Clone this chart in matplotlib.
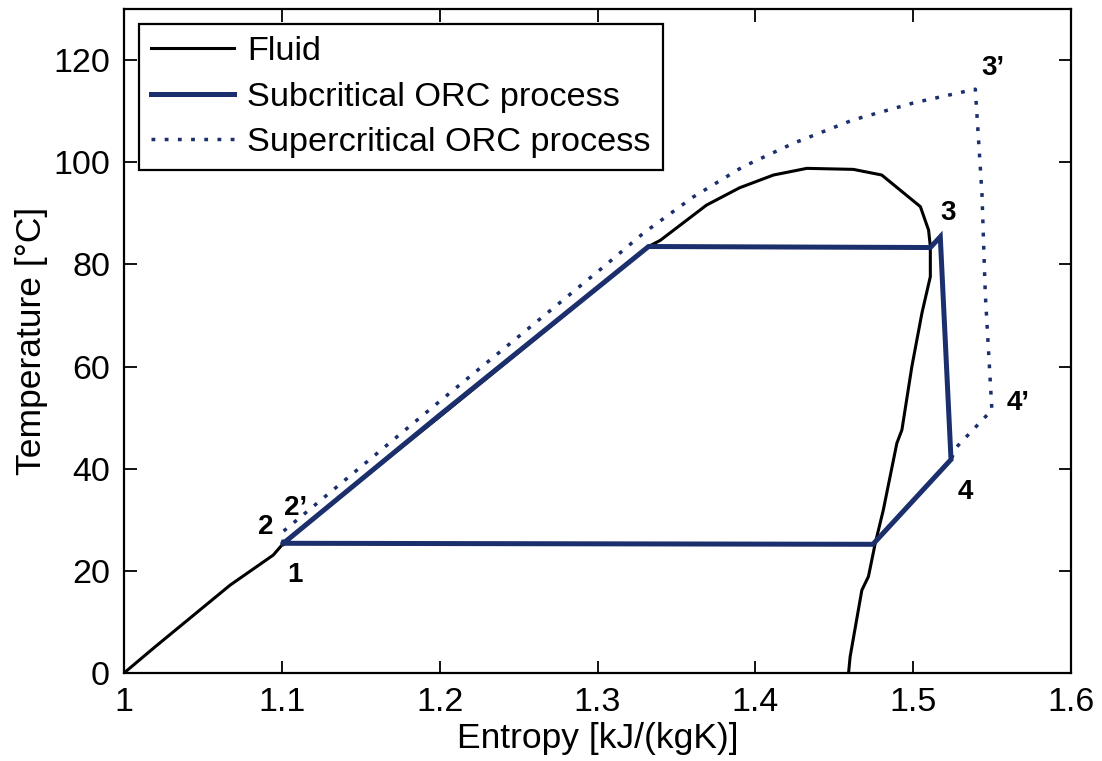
import matplotlib.pyplot as plt

# saturation dome of the working fluid (entropy kJ/(kgK), temperature degC)
fluid_s = [1.000, 1.020, 1.0672, 1.0946, 1.101, 1.150, 1.200, 1.250, 1.300,
           1.3323, 1.3397, 1.369, 1.390, 1.4115, 1.4326, 1.462, 1.480, 1.5045,
           1.5097, 1.5108, 1.5108, 1.5055, 1.4991, 1.4928, 1.4896, 1.481,
           1.4759, 1.4716, 1.4674, 1.460, 1.459]
fluid_T = [0.0, 5.2, 17.2, 23.1, 25.4, 37.8, 50.2, 62.8, 75.4,
           83.5, 84.7, 91.6, 95.0, 97.5, 98.8, 98.6, 97.5, 91.3,
           86.7, 83.5, 77.6, 70.5, 60.0, 47.6, 45.0, 31.9,
           25.4, 18.9, 16.2, 3.2, 0.0]

# subcritical cycle: 1 -> 2 -> evaporation -> 3 -> 4 -> condensation -> 1
sub_s = [1.101, 1.101, 1.200, 1.3323, 1.5108, 1.5171, 1.5239, 1.4744, 1.101]
sub_T = [25.4, 25.4, 50.5, 83.5, 83.3, 85.4, 41.8, 25.2, 25.4]

# supercritical cycle: 1 -> 2' -> heating -> 3' -> 4' -> condensation -> 1
sup_s = [1.101, 1.100, 1.200, 1.3037, 1.329, 1.3606, 1.392, 1.424, 1.462,
         1.500, 1.5393, 1.5435, 1.5456, 1.5498, 1.5276, 1.5239, 1.4744, 1.101]
sup_T = [25.4, 27.5, 53.2, 79.5, 86.1, 93.2, 99.1, 103.7, 108.3,
         111.6, 114.3, 93.9, 74.3, 51.5, 44.3, 41.8, 25.2, 25.4]

# state point labels
point_labels = ["1", "2", "2\u2019", "3", "4", "3\u2019", "4\u2019"]
point_s = [1.1084, 1.090, 1.1084, 1.5222, 1.533, 1.5507, 1.5665]
point_T = [19.2, 28.6, 32.3, 90.1, 35.4, 118.4, 52.9]

x_ticks = [1, 1.1, 1.2, 1.3, 1.4, 1.5, 1.6]
x_ticklabels = ["1", "1.1", "1.2", "1.3", "1.4", "1.5", "1.6"]
y_ticks = [0, 20, 40, 60, 80, 100, 120]

navy = "#1b2f6c"

plt.rcParams["font.family"] = ["Liberation Sans", "DejaVu Sans"]

fig = plt.figure(figsize=(11.02, 7.61), dpi=100)
ax = fig.add_axes([0.1125, 0.1156, 0.8595, 0.8726])

ax.plot(fluid_s, fluid_T, color="black", lw=2.2, label="Fluid", zorder=2)
ax.plot(sub_s, sub_T, color=navy, lw=3.6, label="Subcritical ORC process",
        solid_joinstyle="miter", zorder=4)
ax.plot(sup_s, sup_T, color=navy, lw=2.5, linestyle=(0, (1.1, 2.7)),
        label="Supercritical ORC process", zorder=3)

for txt, s, t in zip(point_labels, point_s, point_T):
    ax.text(s, t, txt, fontsize=20, fontweight="bold", ha="center",
            va="center", zorder=5)

ax.set_xlim(1, 1.6)
ax.set_ylim(0, 130)
ax.set_xticks(x_ticks)
ax.set_xticklabels(x_ticklabels)
ax.set_yticks(y_ticks)
ax.tick_params(direction="in", length=9, width=1.3, labelsize=24.5,
               top=True, right=True, pad=10)
for sp in ax.spines.values():
    sp.set_linewidth(1.6)

ax.set_xlabel("Entropy [kJ/(kgK)]", fontsize=25.5, labelpad=3)
ax.set_ylabel("Temperature [\u00b0C]", fontsize=25.5, labelpad=4)

leg = ax.legend(loc="upper left", fontsize=24.7, fancybox=False,
                framealpha=1, edgecolor="black", handlelength=2.4,
                handletextpad=0.4, labelspacing=0.42, borderpad=0.35,
                borderaxespad=0.45)
leg.get_frame().set_linewidth(1.6)

fig.savefig("out.png", dpi=100)
